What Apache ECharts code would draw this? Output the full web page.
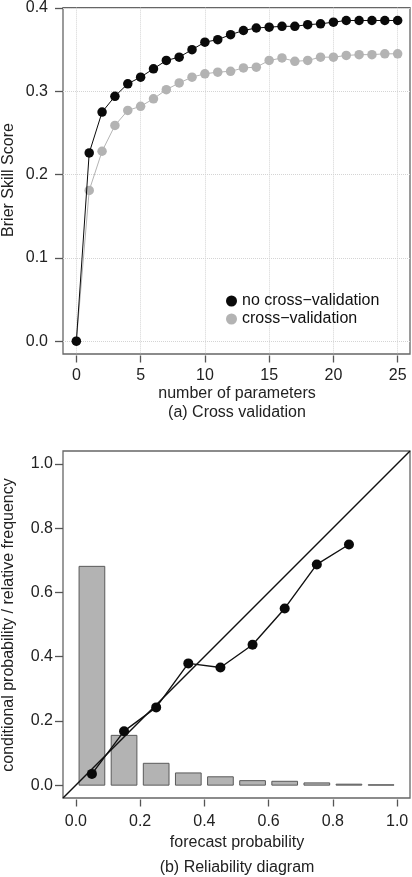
<!DOCTYPE html>
<html>
<head>
<meta charset="utf-8">
<script src="https://cdn.jsdelivr.net/npm/echarts@6/dist/echarts.min.js"></script>
<style>
html,body{margin:0;padding:0;background:#fff;}
#chart{width:412px;height:877px;}
</style>
</head>
<body>
<div id="chart"></div>
<script>
// (a) cross validation
var nParams = [0,1,2,3,4,5,6,7,8,9,10,11,12,13,14,15,16,17,18,19,20,21,22,23,24,25];
var noCV = [0,0.226,0.275,0.294,0.309,0.317,0.327,0.337,0.341,0.350,0.359,0.362,0.368,0.373,0.376,0.377,0.378,0.378,0.380,0.381,0.383,0.385,0.385,0.385,0.385,0.385];
var withCV = [0,0.181,0.228,0.259,0.277,0.282,0.291,0.302,0.310,0.317,0.321,0.323,0.324,0.328,0.329,0.337,0.340,0.336,0.337,0.341,0.341,0.343,0.344,0.344,0.345,0.345];
var topXTicks = [0,5,10,15,20,25];
var topYTicks = [0,0.1,0.2,0.3,0.4];

// (b) reliability diagram
var binCenters = [0.05,0.15,0.25,0.35,0.45,0.55,0.65,0.75,0.85,0.95];
var relFreq = [0.681,0.155,0.068,0.038,0.026,0.014,0.012,0.007,0.003,0.001];
var condProb = [0.035,0.168,0.242,0.379,0.366,0.437,0.550,0.687,0.749];
var botTicks = [0,0.2,0.4,0.6,0.8,1.0];
var diagEnds = [-0.04,1.04];

var FONT = '"Liberation Sans", Arial, Helvetica, sans-serif';
var chart = echarts.init(document.getElementById('chart'), null, {renderer:'canvas'});

var topPts = function(arr){
	var out = [];
	for (var i = 0; i < nParams.length; i++) out.push([nParams[i], arr[i]]);
	return out;
};
var relPts = [];
for (var i = 0; i < condProb.length; i++) relPts.push([binCenters[i], condProb[i]]);
var barPts = [];
for (var j = 0; j < binCenters.length; j++) barPts.push([binCenters[j], relFreq[j]]);

var tickLabel = {color:'#222', fontSize:16, fontFamily:FONT};
var tickLine = {color:'#555', width:1.3};
var fmt1 = function(v){return v.toFixed(1);};
var dotted = {show:true, lineStyle:{color:'#d4d4d4', type:'dotted', width:1}};

var option = {
	animation:false,
	grid:[
		{left:63, top:6, width:347, height:348, show:true, borderColor:'#666', borderWidth:1.3, containLabel:false},
		{left:63, top:451, width:347, height:347, show:true, borderColor:'#666', borderWidth:1.3, containLabel:false}
	],
	xAxis:[
		{gridIndex:0, type:'value', min:-1.04, max:25.96, offset:1.5, position:'bottom',
			axisLine:{show:false, onZero:false},
			axisTick:{show:true, length:7, lineStyle:tickLine, customValues:topXTicks},
			axisLabel:Object.assign({margin:12, customValues:topXTicks}, tickLabel),
			splitLine:dotted},
		{gridIndex:1, type:'value', min:-0.04, max:1.04, offset:1.5, position:'bottom',
			axisLine:{show:false, onZero:false},
			axisTick:{show:true, length:7, lineStyle:tickLine, customValues:botTicks},
			axisLabel:Object.assign({margin:14, customValues:botTicks, formatter:fmt1}, tickLabel),
			splitLine:{show:false}}
	],
	yAxis:[
		{gridIndex:0, type:'value', min:-0.0154, max:0.4004, position:'left',
			axisLine:{show:false, onZero:false},
			axisTick:{show:true, length:8, lineStyle:tickLine, customValues:topYTicks},
			axisLabel:Object.assign({margin:15, customValues:topYTicks, formatter:fmt1}, tickLabel),
			splitLine:dotted},
		{gridIndex:1, type:'value', min:-0.04, max:1.04, position:'left',
			axisLine:{show:false, onZero:false},
			axisTick:{show:true, length:8, lineStyle:tickLine, customValues:botTicks},
			axisLabel:Object.assign({margin:10, customValues:botTicks, formatter:fmt1}, tickLabel),
			splitLine:{show:false}}
	],
	legend:{
		orient:'vertical', left:221, top:288, itemGap:2, itemWidth:11, itemHeight:11,
		icon:'circle', selectedMode:false,
		textStyle:{color:'#111', fontSize:16, fontFamily:FONT},
		data:['no cross\u2212validation','cross\u2212validation']
	},
	series:[
		{name:'cross\u2212validation', type:'line', xAxisIndex:0, yAxisIndex:0, data:topPts(withCV),
			symbol:'circle', symbolSize:9.5, itemStyle:{color:'#b3b3b3'}, lineStyle:{color:'#b3b3b3', width:1}, z:3},
		{name:'no cross\u2212validation', type:'line', xAxisIndex:0, yAxisIndex:0, data:topPts(noCV),
			symbol:'circle', symbolSize:9.5, itemStyle:{color:'#0a0a0a'}, lineStyle:{color:'#0a0a0a', width:1}, z:4},
		{name:'bars', type:'custom', xAxisIndex:1, yAxisIndex:1, data:barPts, z:2,
			renderItem:function(params, api){
				var x = api.value(0), y = api.value(1);
				var p0 = api.coord([x-0.04, y]);
				var p1 = api.coord([x+0.04, 0]);
				return {type:'rect', shape:{x:p0[0], y:p0[1], width:p1[0]-p0[0], height:p1[1]-p0[1]},
					style:{fill:'#b3b3b3', stroke:'#5a5a5a', lineWidth:1}};
			}},
		{name:'diag', type:'line', xAxisIndex:1, yAxisIndex:1, data:diagEnds.map(function(v){return [v,v];}),
			symbol:'none', lineStyle:{color:'#111', width:1.4}, z:3, clip:true},
		{name:'reliability', type:'line', xAxisIndex:1, yAxisIndex:1, data:relPts,
			symbol:'circle', symbolSize:10, itemStyle:{color:'#0a0a0a'}, lineStyle:{color:'#111', width:1.4}, z:4}
	],
	graphic:[
		{type:'text', x:9, y:180, rotation:Math.PI/2,
			style:{text:'Brier Skill Score', fontSize:16, fontFamily:FONT, fill:'#222', align:'center', verticalAlign:'middle'}},
		{type:'text', x:237, y:394,
			style:{text:'number of parameters', fontSize:16, fontFamily:FONT, fill:'#222', align:'center', verticalAlign:'middle'}},
		{type:'text', x:237, y:413,
			style:{text:'(a) Cross validation', fontSize:16, fontFamily:FONT, fill:'#222', align:'center', verticalAlign:'middle'}},
		{type:'text', x:9, y:625, rotation:Math.PI/2,
			style:{text:'conditional probability / relative frequency', fontSize:16, fontFamily:FONT, fill:'#222', align:'center', verticalAlign:'middle'}},
		{type:'text', x:237, y:843,
			style:{text:'forecast probability', fontSize:16, fontFamily:FONT, fill:'#222', align:'center', verticalAlign:'middle'}},
		{type:'text', x:237, y:868,
			style:{text:'(b) Reliability diagram', fontSize:16, fontFamily:FONT, fill:'#222', align:'center', verticalAlign:'middle'}}
	]
};
chart.setOption(option);
</script>
</body>
</html>
